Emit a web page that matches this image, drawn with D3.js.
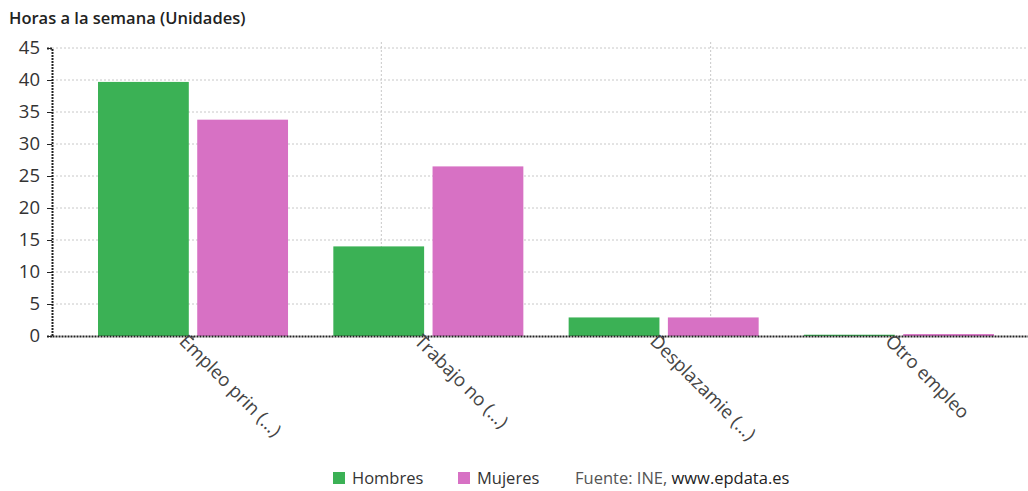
<!DOCTYPE html>
<html>
<head>
<meta charset="utf-8">
<script src="https://cdn.jsdelivr.net/npm/d3@7"></script>
<style>
  body { margin: 0; background: #fff; font-family: "Open Sans", "Noto Sans", sans-serif; }
  svg { display: block; }
</style>
</head>
<body>
<div class="chart"></div>
<script>
let categories = ['Empleo prin (...)', 'Trabajo no (...)', 'Desplazamie (...)', 'Otro empleo'];
let series = ['Hombres', 'Mujeres'];
let hombres = [39.7, 14.0, 2.9, 0.2];
let mujeres = [33.8, 26.5, 2.9, 0.3];
let yTicks = [0, 5, 10, 15, 20, 25, 30, 35, 40, 45];
let colors = ['#3bb155', '#d771c4'];

let w = 1028;
let h = 491;
let pl = 52, pr = 1040, pt = 48, pb = 336;

let svg = d3.select('.chart')
    .append('svg')
    .attr('width', w)
    .attr('height', h);

let y = d3.scaleLinear().domain([0, 45]).range([pb, pt]);
let x0 = d3.scaleBand().domain(categories).range([pl, pr])
    .paddingInner(0.1925).paddingOuter(0.1955);
let x1 = d3.scaleBand().domain(series).range([0, x0.bandwidth()]).paddingInner(0.085);
let xg = d3.scaleLinear().domain([0, 3]).range([pl, pr]);

// title
svg.append('text')
    .attr('x', 9)
    .attr('y', 24)
    .attr('font-size', '16.5px')
    .attr('font-weight', 600)
    .attr('fill', '#222')
    .text('Horas a la semana (Unidades)');

// grid
svg.append('g').selectAll('line')
    .data(yTicks.slice(1))
    .enter().append('line')
    .attr('x1', pl).attr('x2', pr)
    .attr('y1', d => y(d)).attr('y2', d => y(d))
    .attr('stroke', '#c8c8c8')
    .attr('stroke-dasharray', '2,2');
svg.append('g').selectAll('line')
    .data([1, 2])
    .enter().append('line')
    .attr('x1', d => xg(d)).attr('x2', d => xg(d))
    .attr('y1', pt - 6).attr('y2', pb)
    .attr('stroke', '#c8c8c8')
    .attr('stroke-dasharray', '2,2');

// bars
let rows = categories.map((c, i) => ({cat: c, values: [hombres[i], mujeres[i]]}));
let groups = svg.append('g').selectAll('g')
    .data(rows)
    .enter().append('g')
    .attr('transform', d => 'translate(' + x0(d.cat) + ',0)');
groups.selectAll('rect')
    .data(d => d.values.map((v, j) => ({key: series[j], v: v, c: colors[j]})))
    .enter().append('rect')
    .attr('x', d => x1(d.key))
    .attr('y', d => y(d.v))
    .attr('width', x1.bandwidth())
    .attr('height', d => y(0) - y(d.v))
    .attr('fill', d => d.c);

// y axis
let yAxis = d3.axisLeft(y).tickValues(yTicks).tickSize(5).tickPadding(7);
let gy = svg.append('g').attr('transform', 'translate(' + pl + ',0)').call(yAxis);
gy.select('.domain').attr('stroke', '#222').attr('stroke-width', 2).attr('stroke-dasharray', '2,1');
gy.selectAll('.tick line').attr('stroke', '#222');
gy.selectAll('.tick text').attr('font-size', '18.5px').attr('fill', '#333')
    .attr('font-family', '"Open Sans", sans-serif');

// x axis
let xAxis = d3.axisBottom(x0).tickSize(4).tickSizeOuter(0);
let gx = svg.append('g').attr('transform', 'translate(0,' + pb + ')').call(xAxis);
gx.select('.domain').attr('stroke', '#222').attr('stroke-width', 2).attr('stroke-dasharray', '2,1');
gx.selectAll('.tick line').attr('stroke', '#222');
gx.selectAll('.tick text')
    .attr('font-size', '18.5px')
    .attr('fill', '#444')
    .attr('font-family', '"Open Sans", sans-serif')
    .attr('text-anchor', 'start')
    .attr('dy', '0.35em')
    .attr('transform', 'translate(-13,-1) rotate(45)')
    .attr('y', 0)
    .attr('x', 4);

// legend
let legend = svg.append('g').attr('transform', 'translate(333,482)');
let legX = [0, 125];
series.forEach((s, i) => {
    legend.append('rect')
        .attr('x', legX[i]).attr('y', -10)
        .attr('width', 12).attr('height', 12)
        .attr('fill', colors[i]);
    legend.append('text')
        .attr('x', legX[i] + 19).attr('y', 0)
        .attr('dy', '0.1em')
        .attr('font-size', '16.5px')
        .attr('fill', '#333')
        .text(s);
});
let src = legend.append('text').attr('x', 242).attr('y', 0).attr('dy', '0.1em').attr('font-size', '16.5px');
src.append('tspan').attr('fill', '#555').text('Fuente: INE, ');
src.append('tspan').attr('fill', '#222').text('www.epdata.es');
</script>
</body>
</html>
